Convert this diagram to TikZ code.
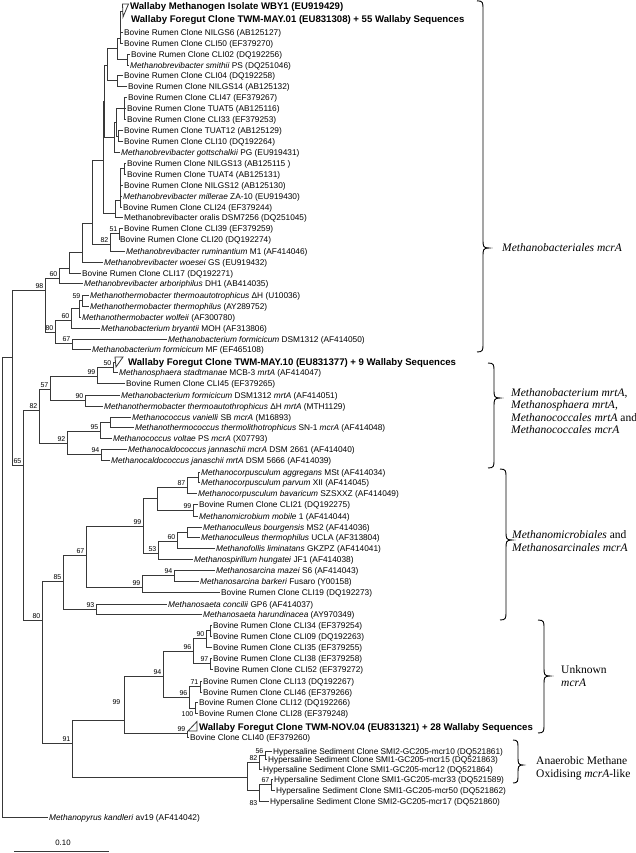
\documentclass[tikz,border=0pt]{standalone}
\usepackage{fontspec}
\setmainfont{Liberation Sans}
\newfontfamily\cladefamily{Liberation Serif}
\newcommand{\lfont}{\fontsize{8.3bp}{10bp}\selectfont}
\newcommand{\bfont}{\fontsize{9.6bp}{11bp}\selectfont\bfseries}
\newcommand{\bsfont}{\fontsize{7bp}{8bp}\selectfont}
\newcommand{\cfont}{\cladefamily\fontsize{11.5bp}{12.6bp}\selectfont}
\tikzset{
  br/.style={draw=black!78, line width=0.8bp},
  brc/.style={draw=black, line width=0.9bp},
  leaf/.style={anchor=base west, inner sep=0pt, yshift=-3bp, font=\lfont},
  bleaf/.style={anchor=base west, inner sep=0pt, yshift=-3.4bp, font=\bfont},
  bsl/.style={anchor=south east, inner sep=0pt, font=\bsfont},
  clade/.style={anchor=west, inner sep=0pt, align=left, font=\cfont},
}
% leaf: name, parent, y, text-x, text
\newcommand{\mkleaf}[5]{\coordinate (#1) at ({#4-1.5},#3); \draw[br] (#2) |- (#1); \node[leaf] (#1t) at (#4,#3) {#5};}
% internal node: name, parent, x, y
\newcommand{\mknode}[4]{\coordinate (#1) at (#3,#4); \draw[br] (#2) |- (#1);}
% bootstrap label
\newcommand{\mkbs}[2]{\node[bsl] (bs-#1) at ([xshift=-1.5bp,yshift=1.2bp]#1) {#2};}
% brace: x, top, tip y, bottom, half width
\newcommand{\mybrace}[5]{\draw[brc] (#1,#2) .. controls ({#1+#5},#2) and ({#1+#5},{#2+2}) .. ({#1+#5},{#2+8})
   -- ({#1+#5},{#3-8}) .. controls ({#1+#5},{#3-2}) and ({#1+#5},#3) .. ({#1+2*#5},#3)
   .. controls ({#1+#5},#3) and ({#1+#5},{#3+2}) .. ({#1+#5},{#3+8})
   -- ({#1+#5},{#4-8}) .. controls ({#1+#5},{#4-2}) and ({#1+#5},#4) .. (#1,#4);}
\begin{document}
\begin{tikzpicture}[x=1bp,y=-1bp]
\useasboundingbox[fill=white] (0,0) rectangle (636,853);
\coordinate (root) at (2,587);
\mknode{nAA}{root}{12}{357}
\mknode{node98}{nAA}{45}{290}
\mknode{node65}{nAA}{23}{465}
% ---------- Methanobacteriales
\mknode{node60}{node98}{59}{278}
\mknode{node80c}{node98}{55}{332}
\mknode{n69}{node60}{69}{268}
\mkleaf{l26}{node60}{283}{84}{\textit{Methanobrevibacter arboriphilus} DH1 (AB414035)}
\mknode{nP}{n69}{82}{252}
\mkleaf{l25}{n69}{273}{82}{Bovine Rumen Clone CLI17 (DQ192271)}
\mknode{nO}{nP}{92}{223}
\mkleaf{l24}{nP}{262}{104}{\textit{Methanobrevibacter woesei} GS (EU919432)}
\mknode{nN}{nO}{103}{160}
\mknode{node82}{nO}{110}{244}
\mknode{node51}{node82}{119}{233}
\mkleaf{l23}{node82}{251}{126}{\textit{Methanobrevibacter ruminantium} M1 (AF414046)}
\mkleaf{l21}{node51}{228}{124}{Bovine Rumen Clone CLI39 (EF379259)}
\mkleaf{l22}{node51}{239}{120}{Bovine Rumen Clone CLI20 (DQ192274)}
\mknode{nJ}{nN}{104}{101}
\mknode{nM}{nN}{115}{213}
\mknode{nL}{nM}{120}{200}
\mkleaf{l20}{nM}{217}{124}{Methanobrevibacter oralis DSM7256 (DQ251045)}
\mknode{nK}{nL}{124}{168}
\mkleaf{l15}{nK}{163}{127}{Bovine Rumen Clone NILGS13 (AB125115 )}
\mkleaf{l16}{nK}{174}{127}{Bovine Rumen Clone TUAT4 (AB125131)}
\mkleaf{l17}{nL}{185}{124}{Bovine Rumen Clone NILGS12 (AB125130)}
\mkleaf{l18}{nL}{196}{123}{\textit{Methanobrevibacter millerae} ZA-10 (EU919430)}
\mkleaf{l19}{nL}{207}{123}{Bovine Rumen Clone CLI24 (EF379244)}
\mknode{nE}{nJ}{107}{65}
\mknode{nI}{nJ}{114}{137}
\mknode{nH}{nI}{116}{122}
\mkleaf{l14}{nI}{152}{121}{\textit{Methanobrevibacter gottschalkii} PG (EU919431)}
\mknode{nF}{nH}{124}{108}
\mknode{nG}{nH}{118}{136}
\mkleaf{l9}{nF}{97}{128}{Bovine Rumen Clone CLI47 (EF379267)}
\mkleaf{l10}{nF}{108}{127}{Bovine Rumen Clone TUAT5 (AB125116)}
\mkleaf{l11}{nF}{119}{127}{Bovine Rumen Clone CLI33 (EF379253)}
\mkleaf{l12}{nG}{130}{124}{Bovine Rumen Clone TUAT12 (AB125129)}
\mkleaf{l13}{nG}{141}{124}{Bovine Rumen Clone CLI10 (DQ192264)}
\mknode{nB}{nE}{117}{48}
\mknode{nD}{nE}{117}{80}
\mkleaf{l7}{nD}{75}{124}{Bovine Rumen Clone CLI04 (DQ192258)}
\mkleaf{l8}{nD}{86}{128}{Bovine Rumen Clone NILGS14 (AB125132)}
\mknode{nA}{nB}{120}{38}
\mknode{nC}{nB}{127}{59}
\mkleaf{l5}{nC}{54}{131}{Bovine Rumen Clone CLI02 (DQ192256)}
\mkleaf{l6}{nC}{65}{130}{\textit{Methanobrevibacter smithii} PS (DQ251046)}
\mknode{tri1}{nA}{122.5}{11}
\draw[br] (122.5,4) -- (128.5,4) -- (123,17) -- cycle;
\node[bleaf] (l1t) at (130,6) {Wallaby Methanogen Isolate WBY1 (EU919429)};
\node[bleaf] (l2t) at (131,19) {Wallaby Foregut Clone TWM-MAY.01 (EU831308) + 55 Wallaby Sequences};
\mkleaf{l3}{nA}{32}{124}{Bovine Rumen Clone NILGS6 (AB125127)}
\mkleaf{l4}{nA}{43}{124}{Bovine Rumen Clone CLI50 (EF379270)}
% Methanothermobacter / Methanobacterium
\mknode{node60c}{node80c}{71}{320}
\mknode{node67c}{node80c}{72}{343}
\mknode{nX}{node60c}{79}{308}
\mkleaf{l30}{node60c}{328}{101}{\textit{Methanobacterium bryantii} MOH (AF313806)}
\mknode{node59}{nX}{82}{300}
\mkleaf{l29}{nX}{317}{82}{\textit{Methanothermobacter wolfeii} (AF300780)}
\mkleaf{l27}{node59}{295}{90}{\textit{Methanothermobacter thermoautotrophicus} ΔH (U10036)}
\mkleaf{l28}{node59}{306}{90}{\textit{Methanothermobacter thermophilus} (AY289752)}
\mkleaf{l31}{node67c}{339}{168}{\textit{Methanobacterium formicicum} DSM1312 (AF414050)}
\mkleaf{l32}{node67c}{349}{92}{\textit{Methanobacterium formicicum} MF (EF465108)}
% ---------- mrtA / Methanococcales
\mknode{node82b}{node65}{39}{410}
\mknode{node80b}{node65}{42}{620}
\mknode{node57}{node82b}{50}{389}
\mknode{node92}{node82b}{67}{443}
\mknode{node99}{node57}{97}{376}
\mknode{node90}{node57}{85}{400}
\mknode{node50}{node99}{113}{367}
\mkleaf{l35}{node99}{383}{126}{Bovine Rumen Clone CLI45 (EF379265)}
\mknode{tri2}{node50}{115}{362}
\draw[br] (115,357) -- (123,357) -- (116,367) -- cycle;
\node[bleaf] (l33t) at (128,362) {Wallaby Foregut Clone TWM-MAY.10 (EU831377) + 9 Wallaby Sequences};
\mkleaf{l34}{node50}{372}{119}{\textit{Methanosphaera stadtmanae} MCB-3 \textit{mrtA} (AF414047)}
\mkleaf{l36}{node90}{395}{121}{\textit{Methanobacterium formicicum} DSM1312 \textit{mrtA} (AF414051)}
\mkleaf{l37}{node90}{406}{104}{\textit{Methanothermobacter thermoautothrophicus} ΔH \textit{mrtA} (MTH1129)}
\mknode{node95}{node92}{100}{431}
\mknode{node94}{node92}{101}{454}
\mknode{nVT}{node95}{110}{422}
\mkleaf{l40}{node95}{438}{113}{\textit{Methanococcus voltae} PS \textit{mcrA} (X07793)}
\mkleaf{l38}{nVT}{417}{132}{\textit{Methanococcus vanielli} SB \textit{mcrA} (M16893)}
\mkleaf{l39}{nVT}{427}{135}{\textit{Methanothermococcus thermolithotrophicus} SN-1 \textit{mcrA} (AF414048)}
\mkleaf{l41}{node94}{449}{128}{\textit{Methanocaldococcus jannaschii mcrA} DSM 2661 (AF414040)}
\mkleaf{l42}{node94}{460}{111}{\textit{Methanocaldococcus janaschii mrtA} DSM 5666 (AF414039)}
% ---------- Methanomicrobiales / Methanosarcinales
\mknode{node85}{node80b}{63}{581}
\mknode{node91}{node80b}{72}{743}
\mknode{node67}{node85}{86}{555}
\mknode{node93}{node85}{96}{609}
\mknode{node99a}{node67}{143}{526}
\mknode{node99c}{node67}{142}{587}
\mknode{nCM}{node99a}{157}{498}
\mknode{node53}{node99a}{158}{553}
\mknode{node87}{nCM}{187}{487}
\mknode{node99b}{nCM}{193}{510}
\mknode{nAP}{node87}{198}{477}
\mkleaf{l45}{node87}{493}{198}{\textit{Methanocorpusculum bavaricum} SZSXXZ (AF414049)}
\mkleaf{l43}{nAP}{472}{201}{\textit{Methanocorpusculum aggregans} MSt (AF414034)}
\mkleaf{l44}{nAP}{482}{201}{\textit{Methanocorpusculum parvum} XII (AF414045)}
\mkleaf{l46}{node99b}{504}{199}{Bovine Rumen Clone CLI21 (DQ192275)}
\mkleaf{l47}{node99b}{516}{199}{\textit{Methanomicrobium mobile} 1 (AF414044)}
\mknode{node60b}{node53}{177}{541}
\mkleaf{l51}{node53}{559}{194}{\textit{Methanospirillum hungatei} JF1 (AF414038)}
\mknode{nMC}{node60b}{187}{532}
\mkleaf{l50}{node60b}{548}{216}{\textit{Methanofollis liminatans} GKZPZ (AF414041)}
\mkleaf{l48}{nMC}{527}{203}{\textit{Methanoculleus bourgensis} MS2 (AF414036)}
\mkleaf{l49}{nMC}{537}{201}{\textit{Methanoculleus thermophilus} UCLA (AF313804)}
\mknode{node94b}{node99c}{174}{575}
\mkleaf{l54}{node99c}{592}{221}{Bovine Rumen Clone CLI19 (DQ192273)}
\mkleaf{l52}{node94b}{570}{216}{\textit{Methanosarcina mazei} S6 (AF414043)}
\mkleaf{l53}{node94b}{581}{200}{\textit{Methanosarcina barkeri} Fusaro (Y00158)}
\mkleaf{l55}{node93}{604}{168}{\textit{Methanosaeta concilii} GP6 (AF414037)}
\mkleaf{l56}{node93}{614}{203}{\textit{Methanosaeta harundinacea} (AY970349)}
% ---------- Unknown mcrA
\mknode{node99u}{node91}{124}{720}
\mknode{nH2}{node91}{247}{777}
\mknode{node94u}{node99u}{163}{676}
\mknode{node99w}{node99u}{187}{733}
\mknode{node96a}{node94u}{193}{651}
\mknode{node96b}{node94u}{189}{697}
\mknode{node90u}{node96a}{206}{638}
\mknode{node97}{node96a}{210}{663}
\mknode{nP1}{node90u}{210}{630}
\mkleaf{l59}{node90u}{647}{213}{Bovine Rumen Clone CLI35 (EF379255)}
\mkleaf{l57}{nP1}{625}{213}{Bovine Rumen Clone CLI34 (EF379254)}
\mkleaf{l58}{nP1}{636}{213}{Bovine Rumen Clone CLI09 (DQ192263)}
\mkleaf{l60}{node97}{658}{213}{Bovine Rumen Clone CLI38 (EF379258)}
\mkleaf{l61}{node97}{669}{214}{Bovine Rumen Clone CLI52 (EF379272)}
\mknode{node71}{node96b}{200}{686}
\mknode{node100}{node96b}{195}{708}
\mkleaf{l62}{node71}{681}{203}{Bovine Rumen Clone CLI13 (DQ192267)}
\mkleaf{l63}{node71}{692}{203}{Bovine Rumen Clone CLI46 (EF379266)}
\mkleaf{l64}{node100}{702}{199}{Bovine Rumen Clone CLI12 (DQ192266)}
\mkleaf{l65}{node100}{713}{199}{Bovine Rumen Clone CLI28 (EF379248)}
\mknode{tri3}{node99w}{188}{731}
\draw[br] (188,731) -- (197,721.5) -- (197,731) -- cycle;
\node[bleaf] (l66t) at (199,727) {Wallaby Foregut Clone TWM-NOV.04 (EU831321) + 28 Wallaby Sequences};
\mkleaf{l67}{node99w}{737}{190}{Bovine Clone CLI40 (EF379260)}
% ---------- Hypersaline
\mknode{node82h}{nH2}{259}{762}
\mknode{node83}{nH2}{259}{790}
\mknode{node56}{node82h}{265}{755}
\mkleaf{l70}{node82h}{769}{263}{Hypersaline Sediment Clone SMI1-GC205-mcr12 (DQ521864)}
\mkleaf{l68}{node56}{751}{273}{Hypersaline Sediment Clone SMI2-GC205-mcr10 (DQ521861)}
\mkleaf{l69}{node56}{759}{268}{Hypersaline Sediment Clone SMI1-GC205-mcr15 (DQ521863)}
\mknode{node67h}{node83}{271}{784}
\mkleaf{l73}{node83}{801}{270}{Hypersaline Sediment Clone SMI2-GC205-mcr17 (DQ521860)}
\mkleaf{l71}{node67h}{779}{274}{Hypersaline Sediment Clone SMI1-GC205-mcr33 (DQ521589)}
\mkleaf{l72}{node67h}{790}{276}{Hypersaline Sediment Clone SMI1-GC205-mcr50 (DQ521862)}
% ---------- outgroup
\mkleaf{l74}{root}{817}{49}{\textit{Methanopyrus kandleri} av19 (AF414042)}
% ---------- bootstrap values
\mkbs{node98}{98} \mkbs{node60}{60} \mkbs{node59}{59} \mkbs{node60c}{60}
\mkbs{node80c}{80} \mkbs{node67c}{67} \mkbs{node51}{51} \mkbs{node82}{82}
\mkbs{node50}{50} \mkbs{node99}{99} \mkbs{node57}{57} \mkbs{node90}{90}
\mkbs{node82b}{82} \mkbs{node95}{95} \mkbs{node92}{92} \mkbs{node94}{94}
\mkbs{node65}{65} \mkbs{node87}{87} \mkbs{node99b}{99} \mkbs{node99a}{99}
\mkbs{node60b}{60} \mkbs{node53}{53} \mkbs{node94b}{94} \mkbs{node99c}{99}
\mkbs{node67}{67} \mkbs{node93}{93} \mkbs{node85}{85} \mkbs{node80b}{80}
\mkbs{node90u}{90} \mkbs{node96a}{96} \mkbs{node97}{97} \mkbs{node94u}{94}
\mkbs{node71}{71} \mkbs{node96b}{96} \mkbs{node99w}{99} \mkbs{node91}{91}
\mkbs{node56}{56} \mkbs{node82h}{82} \mkbs{node67h}{67}
\node[bsl] (bs-node99u) at (120.5,704.5) {99};
\node[bsl] (bs-node100) at (193.5,716.5) {100};
\node[bsl] (bs-node83) at (257.5,805.5) {83};
% ---------- scale bar
\coordinate (sbl) at (14,851.5);
\coordinate (sbr) at (109,851.5);
\draw[br] (sbl) -- (sbr);
\node[inner sep=0pt, font=\fontsize{7.8bp}{9bp}\selectfont] (sbt) at (63,843) {0.10};
% ---------- braces and clade labels
\mybrace{477}{0.8}{248}{352}{6}
\mybrace{488}{363}{398}{468}{6}
\mybrace{500}{469}{540}{620}{6}
\mybrace{538}{620}{676}{733}{6}
\mybrace{513}{740}{765}{783}{5}
\node[clade] (c1) at (502,248) {\textit{Methanobacteriales mcrA}};
\node[clade] (c2) at (511,411) {\textit{Methanobacterium mrtA},\\\textit{Methanosphaera mrtA},\\\textit{Methanococcales mrtA} and\\\textit{Methanococcales mcrA}};
\node[clade] (c3) at (512,541) {\textit{Methanomicrobiales} and\\\textit{Methanosarcinales mcrA}};
\node[clade] (c4) at (561,676) {Unknown\\\textit{mcrA}};
\node[clade] (c5) at (536,768) {Anaerobic Methane\\Oxidising \textit{mcrA}-like};
\end{tikzpicture}
\end{document}
